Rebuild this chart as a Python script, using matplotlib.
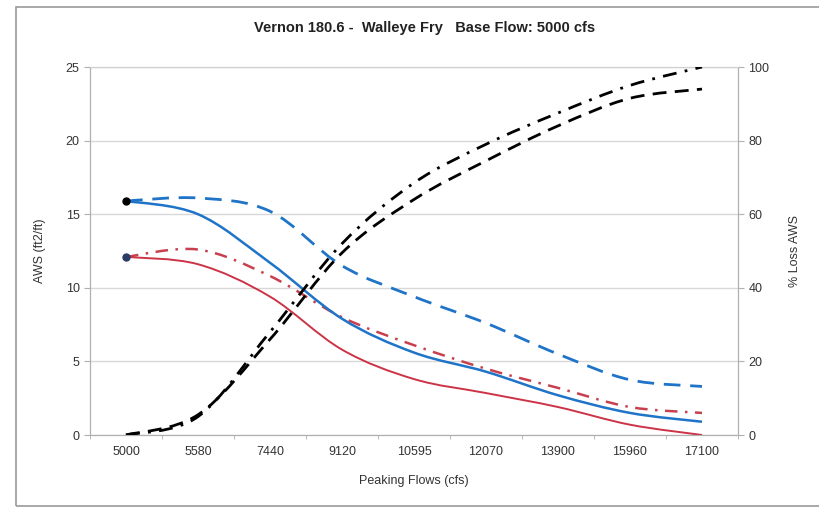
import numpy as np
import matplotlib.pyplot as plt
from matplotlib.path import Path
from matplotlib.patches import PathPatch, Rectangle

plt.rcParams['font.family'] = ['Liberation Sans', 'DejaVu Sans']

### Data
flows = ['5000', '5580', '7440', '9120', '10595', '12070', '13900', '15960', '17100']
aws_blue = [15.9, 15.0, 11.7, 7.9, 5.6, 4.3, 2.7, 1.5, 0.9]
aws_red = [12.1, 11.6, 9.4, 5.8, 3.8, 2.85, 1.9, 0.7, 0.0]
aws_blue_dash = [15.9, 16.1, 15.2, 11.5, 9.4, 7.6, 5.5, 3.75, 3.3]
aws_red_dashdot = [12.1, 12.6, 10.8, 8.0, 6.1, 4.5, 3.2, 1.9, 1.5]
loss_dashdot = [0, 5, 28, 52, 68.5, 79, 87.5, 95, 100]
loss_dash = [0, 5.5, 26, 49.5, 64, 74.5, 84, 91.5, 94]

### Helpers
def smooth_path(x, y):
  # Excel style smoothed line: Catmull-Rom segments as cubic Beziers
  p = np.column_stack([x, y]).astype(float)
  ext = np.vstack([p[0], p, p[-1]])
  verts = [p[0]]
  codes = [Path.MOVETO]
  for i in range(len(p) - 1):
    c1 = ext[i+1] + (ext[i+2] - ext[i]) / 6.
    c2 = ext[i+2] - (ext[i+3] - ext[i+1]) / 6.
    verts += [c1, c2, ext[i+2]]
    codes += [Path.CURVE4] * 3
  return Path(verts, codes)

def add_line(ax, y, color, lw, ls):
  x = np.arange(len(y))
  patch = PathPatch(smooth_path(x, y), fill=False, edgecolor=color,
                    linewidth=lw, linestyle=ls, capstyle='butt', zorder=3)
  ax.add_patch(patch)

### Figure
fig = plt.figure(figsize=(8.2, 5.08), dpi=100)
fig.patches.append(Rectangle((16/820., 2/508.), 1.2, 499/508., transform=fig.transFigure,
                             fill=False, edgecolor='#9a9a9a', linewidth=1.2))

ax = fig.add_axes([90/820., 73/508., 648/820., 368/508.])
ax2 = ax.twinx()

blue = '#1f74c8'
red = '#cc3346'

add_line(ax, aws_blue_dash, blue, 2.0, (0, (6, 3.5)))
add_line(ax, aws_red_dashdot, '#c8404e', 1.8, (0, (5, 3, 1, 3)))
add_line(ax, aws_blue, blue, 1.8, '-')
add_line(ax, aws_red, red, 1.4, '-')
ax.plot([0], [aws_blue[0]], 'o', color='black', ms=5, zorder=4)
ax.plot([0], [aws_red[0]], 'o', color='#2b3a67', ms=5, zorder=4)

add_line(ax2, loss_dash, 'black', 2.0, (0, (5, 3)))
add_line(ax2, loss_dashdot, 'black', 2.0, (0, (5, 3, 1, 3)))

ax.set_xlim(-0.5, len(flows) - 0.5)
ax.set_ylim(0, 25)
ax2.set_ylim(0, 100)
ax.set_xticks(np.arange(len(flows)))
ax.set_xticklabels(flows)
ax.set_xticks(np.arange(len(flows) + 1) - 0.5, minor=True)
ax.set_yticks(np.arange(0, 26, 5))
ax2.set_yticks(np.arange(0, 101, 20))

ax.grid(axis='y', color='#d8d8d8', linewidth=1.0)
ax.set_axisbelow(True)
for a in (ax, ax2):
  for s in a.spines.values():
    s.set_color('#b0b0b0')
  a.spines['top'].set_color('#d0d0d0')
ax.tick_params(axis='x', which='major', length=0, pad=8, labelsize=9, labelcolor='#333333')
ax.tick_params(axis='x', which='minor', length=3, color='#b0b0b0')
ax.tick_params(axis='y', length=4, color='#b0b0b0', labelsize=9, labelcolor='#333333')
ax2.tick_params(axis='y', length=4, color='#b0b0b0', labelsize=9, labelcolor='#333333')

ax.set_xlabel('Peaking Flows (cfs)', fontsize=9, color='#333333', labelpad=12)
ax.set_ylabel('AWS (ft2/ft)', fontsize=9, color='#333333', labelpad=14)
ax2.set_ylabel('% Loss AWS', fontsize=9, color='#333333', rotation=90, labelpad=14)

fig.text(425/820., 1 - 28/508., 'Vernon 180.6 -  Walleye Fry   Base Flow: 5000 cfs',
         ha='center', va='center', fontsize=10.5, fontweight='bold', color='#222222')

fig.savefig('out.png', dpi=100)
